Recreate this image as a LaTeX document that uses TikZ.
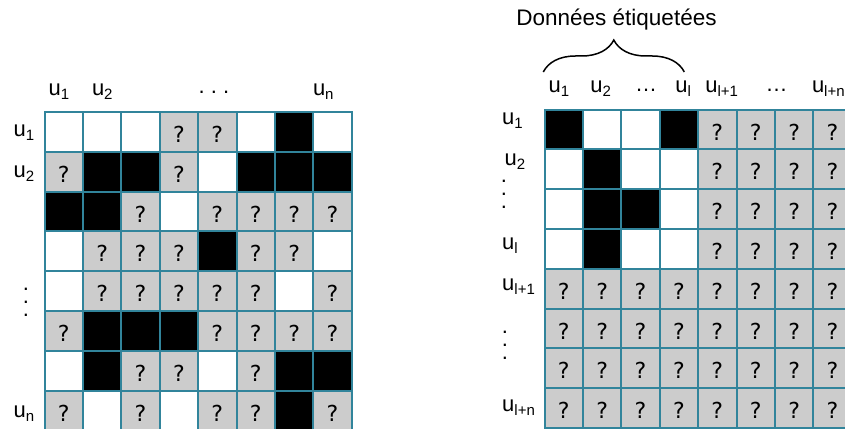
\documentclass[tikz,border=0pt]{standalone}
\usepackage{fontspec}
\setmainfont{Liberation Sans}
\newfontfamily\qfont{DejaVu Sans}
\usetikzlibrary{decorations.pathreplacing}
\definecolor{gridteal}{HTML}{31849B}
\definecolor{qgray}{HTML}{CCCCCC}
\newcommand\usub[2]{#1\raisebox{-4pt}{\fontsize{15}{16}\selectfont #2}}
\begin{document}
\begin{tikzpicture}[x=1pt,y=-1pt,
 lbl/.style={font=\fontsize{22}{24}\selectfont, inner sep=0, anchor=base west},
 dotlbl/.style={font=\fontsize{22}{24}\selectfont, inner sep=0, anchor=center},
 vdots/.style={font=\fontsize{22}{13}\selectfont, inner sep=0, anchor=center, align=center},
 cellbase/.style={draw=gridteal, line width=2pt, minimum width=38.4pt, minimum height=39.8pt, inner sep=0, anchor=north west},
 cellW/.style={cellbase, fill=white},
 cellK/.style={cellbase, fill=black},
 cellG/.style={cellbase, fill=qgray, label={[qmark]center:?}},
 qmark/.style={font=\qfont\fontsize{22}{24}\selectfont, inner sep=0, yshift=-2.5pt},
 bracestyle/.style={line width=1.5pt, decorate, decoration={brace, amplitude=32pt}},
]
\useasboundingbox (0,0) rectangle (845,428);
\clip (0,0) rectangle (845,428);
% left matrix
\foreach \row [count=\r] in {{W,W,W,G,G,W,K,W},{G,K,K,G,W,K,K,K},{K,K,G,W,G,G,G,G},{W,G,G,G,K,G,G,W},{W,G,G,G,G,G,W,G},{G,K,K,K,G,G,G,G},{W,K,G,G,W,G,K,K},{G,W,G,W,G,G,K,G}}{
  \foreach \c [count=\k] in \row {
    \node[cell\c] (L-\r-\k) at ({43.5+(\k-1)*38.4},{111+(\r-1)*39.8}) {};
  }
}
% right matrix
\foreach \row [count=\r] in {{K,W,W,K,G,G,G,G},{W,K,W,W,G,G,G,G},{W,K,K,W,G,G,G,G},{W,K,W,W,G,G,G,G},{G,G,G,G,G,G,G,G},{G,G,G,G,G,G,G,G},{G,G,G,G,G,G,G,G},{G,G,G,G,G,G,G,G}}{
  \foreach \c [count=\k] in \row {
    \node[cell\c] (R-\r-\k) at ({543.5+(\k-1)*38.4},{108.5+(\r-1)*39.8}) {};
  }
}
% left column labels
\node[lbl] (lc1) at (48.5,95) {\usub{u}{1}};
\node[lbl] (lc2) at (91.8,95) {\usub{u}{2}};
\node[dotlbl] (lcd) at (214,92.5) {.\ .\ .};
\node[lbl] (lcn) at (312.8,95) {\usub{u}{n}};
% left row labels
\node[lbl] (lr1) at (13.5,136.5) {\usub{u}{1}};
\node[lbl] (lr2) at (13.5,177.5) {\usub{u}{2}};
\node[vdots] (lrd) at (26,302) {.\\.\\.};
\node[lbl] (lrn) at (13.5,417) {\usub{u}{n}};
% right column labels
\node[lbl] (rc1) at (548.5,92.5) {\usub{u}{1}};
\node[lbl] (rc2) at (590.2,92.5) {\usub{u}{2}};
\node[dotlbl] (rcd1) at (646,90) {…};
\node[lbl] (rcl) at (675.2,92.5) {\usub{u}{l}};
\node[lbl] (rcl1) at (705.2,92.5) {\usub{u}{l+1}};
\node[dotlbl] (rcd2) at (776.7,90) {…};
\node[lbl] (rcln) at (811.8,92.5) {\usub{u}{l+n}};
% right row labels
\node[lbl] (rr1) at (502,124.5) {\usub{u}{1}};
\node[lbl] (rr2) at (504.5,165) {\usub{u}{2}};
\node[vdots] (rrd) at (504,194) {.\\.\\.};
\node[lbl] (rrl) at (502,249) {\usub{u}{l}};
\node[lbl] (rrl1) at (502,290) {\usub{u}{l+1}};
\node[vdots] (rrd2) at (505,345) {.\\.\\.};
\node[lbl] (rrln) at (502,411) {\usub{u}{l+n}};
% brace and title
\coordinate (brl) at (543.3,72);
\coordinate (brr) at (684.3,72);
\draw[bracestyle] (brl) -- (brr);
\node[font=\fontsize{22.5}{24}\selectfont, inner sep=0, anchor=base] (title) at (616.5,25.5) {Données étiquetées};
\end{tikzpicture}
\end{document}
